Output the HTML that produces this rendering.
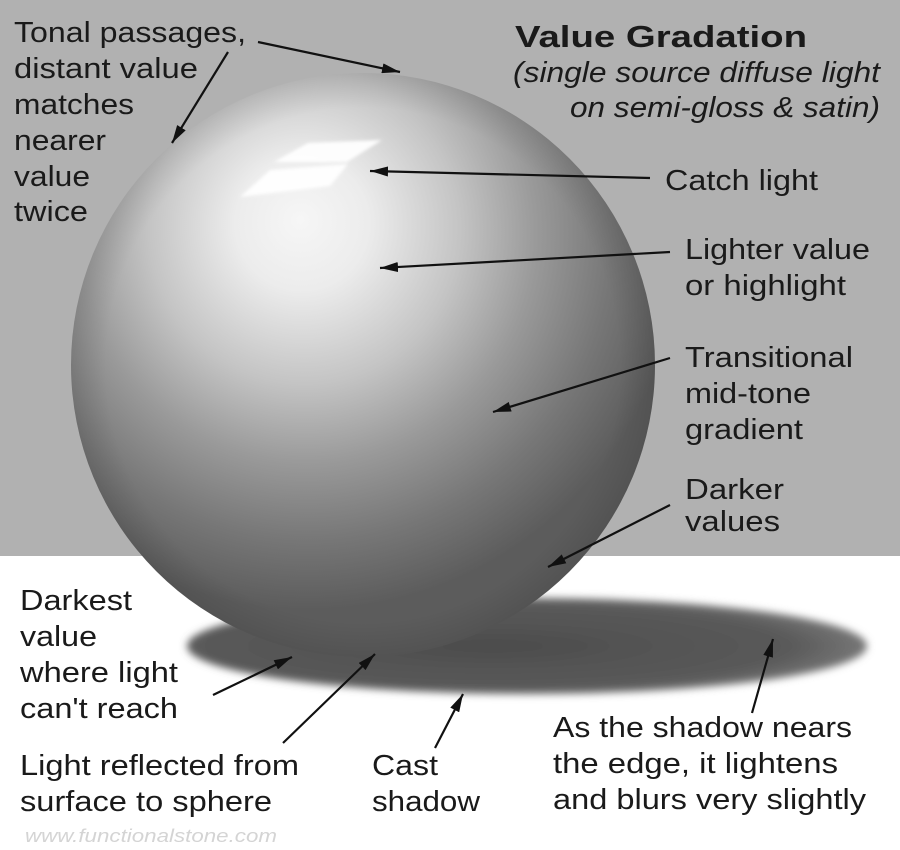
<!DOCTYPE html>
<html><head><meta charset="utf-8"><style>
html,body{margin:0;padding:0;width:900px;height:850px;overflow:hidden;background:#fff}
svg text{font-family:"Liberation Sans Narrow","Liberation Sans",sans-serif;fill:#1a1a1a;font-size:29px}
</style></head><body>
<svg width="900" height="850" viewBox="0 0 900 850" xmlns="http://www.w3.org/2000/svg">
<defs>
<radialGradient id="sph" cx="310" cy="240" r="370" fx="300" fy="220" gradientUnits="userSpaceOnUse">
<stop offset="0" stop-color="#f6f6f6"/>
<stop offset="0.18" stop-color="#ececec"/>
<stop offset="0.42" stop-color="#c4c4c4"/>
<stop offset="0.62" stop-color="#9a9a9a"/>
<stop offset="0.82" stop-color="#777"/>
<stop offset="1" stop-color="#5c5c5c"/>
</radialGradient>
<radialGradient id="rim" cx="363" cy="365" r="292" gradientUnits="userSpaceOnUse">
<stop offset="0.88" stop-color="#000" stop-opacity="0"/>
<stop offset="1" stop-color="#000" stop-opacity="0.1"/>
</radialGradient>
<radialGradient id="shd" cx="0.45" cy="0.5" r="0.55">
<stop offset="0" stop-color="#4c4c4c"/>
<stop offset="0.8" stop-color="#5a5a5a"/>
<stop offset="1" stop-color="#777"/>
</radialGradient>
<filter id="bl" x="-10%" y="-30%" width="120%" height="160%"><feGaussianBlur stdDeviation="4"/></filter>
<filter id="bl2"><feGaussianBlur stdDeviation="1.5"/></filter>
<marker id="ah" viewBox="0 0 18 10" refX="18" refY="5" markerWidth="18" markerHeight="10" orient="auto" markerUnits="userSpaceOnUse">
<path d="M0,0 L18,5 L0,10 z" fill="#111"/></marker>
</defs>
<rect x="0" y="0" width="900" height="556" fill="#b1b1b1"/>
<rect x="0" y="556" width="900" height="294" fill="#fff"/>
<ellipse cx="527" cy="646" rx="340" ry="48" fill="url(#shd)" filter="url(#bl)"/>
<circle cx="363" cy="365" r="292" fill="url(#sph)"/>
<circle cx="363" cy="365" r="292" fill="url(#rim)"/>
<g fill="#fff" filter="url(#bl2)" opacity="0.95">
<path d="M274,162 L308,143 L382,140 L347,162 Z"/>
<path d="M240,197 L270,170 L348,164 L330,186 Z"/>
</g>
<g stroke="#111" stroke-width="2.2" fill="none" marker-end="url(#ah)">
<line x1="258" y1="42" x2="400" y2="72"/>
<line x1="228" y1="52" x2="172" y2="143"/>
<line x1="650" y1="178" x2="370" y2="171"/>
<line x1="670" y1="252" x2="380" y2="268"/>
<line x1="670" y1="358" x2="493" y2="412"/>
<line x1="670" y1="505" x2="548" y2="567"/>
<line x1="213" y1="695" x2="292" y2="657"/>
<line x1="283" y1="743" x2="375" y2="654"/>
<line x1="435" y1="748" x2="463" y2="694"/>
<line x1="752" y1="713" x2="773" y2="639"/>
</g>
<g>
<text x="14" y="42" textLength="232" lengthAdjust="spacingAndGlyphs">Tonal passages,</text>
<text x="14" y="78" textLength="184" lengthAdjust="spacingAndGlyphs">distant value</text>
<text x="14" y="114" textLength="120" lengthAdjust="spacingAndGlyphs">matches</text>
<text x="14" y="150" textLength="92" lengthAdjust="spacingAndGlyphs">nearer</text>
<text x="14" y="186" textLength="76" lengthAdjust="spacingAndGlyphs">value</text>
<text x="14" y="221" textLength="74" lengthAdjust="spacingAndGlyphs">twice</text>
<text x="515" y="47" textLength="292" lengthAdjust="spacingAndGlyphs" style="font-weight:bold;font-size:31px">Value Gradation</text>
<text x="513" y="82" textLength="367" lengthAdjust="spacingAndGlyphs" style="font-style:italic">(single source diffuse light</text>
<text x="570" y="117" textLength="310" lengthAdjust="spacingAndGlyphs" style="font-style:italic">on semi-gloss &amp; satin)</text>
<text x="665" y="190" textLength="153" lengthAdjust="spacingAndGlyphs">Catch light</text>
<text x="685" y="259" textLength="185" lengthAdjust="spacingAndGlyphs">Lighter value</text>
<text x="685" y="295" textLength="161" lengthAdjust="spacingAndGlyphs">or highlight</text>
<text x="685" y="367" textLength="168" lengthAdjust="spacingAndGlyphs">Transitional</text>
<text x="685" y="403" textLength="126" lengthAdjust="spacingAndGlyphs">mid-tone</text>
<text x="685" y="439" textLength="118" lengthAdjust="spacingAndGlyphs">gradient</text>
<text x="685" y="499" textLength="99" lengthAdjust="spacingAndGlyphs">Darker</text>
<text x="685" y="531" textLength="95" lengthAdjust="spacingAndGlyphs">values</text>
<text x="20" y="610" textLength="112" lengthAdjust="spacingAndGlyphs">Darkest</text>
<text x="20" y="646" textLength="77" lengthAdjust="spacingAndGlyphs">value</text>
<text x="20" y="682" textLength="158" lengthAdjust="spacingAndGlyphs">where light</text>
<text x="20" y="718" textLength="158" lengthAdjust="spacingAndGlyphs">can't reach</text>
<text x="20" y="775" textLength="279" lengthAdjust="spacingAndGlyphs">Light reflected from</text>
<text x="20" y="811" textLength="252" lengthAdjust="spacingAndGlyphs">surface to sphere</text>
<text x="372" y="775" textLength="66" lengthAdjust="spacingAndGlyphs">Cast</text>
<text x="372" y="811" textLength="108" lengthAdjust="spacingAndGlyphs">shadow</text>
<text x="553" y="737" textLength="299" lengthAdjust="spacingAndGlyphs">As the shadow nears</text>
<text x="553" y="773" textLength="285" lengthAdjust="spacingAndGlyphs">the edge, it lightens</text>
<text x="553" y="809" textLength="313" lengthAdjust="spacingAndGlyphs">and blurs very slightly</text>
<text x="25" y="842" textLength="252" lengthAdjust="spacingAndGlyphs" style="font-size:18px;font-style:italic;fill:#d4d4d4">www.functionalstone.com</text>
</g>
</svg>
</body></html>
